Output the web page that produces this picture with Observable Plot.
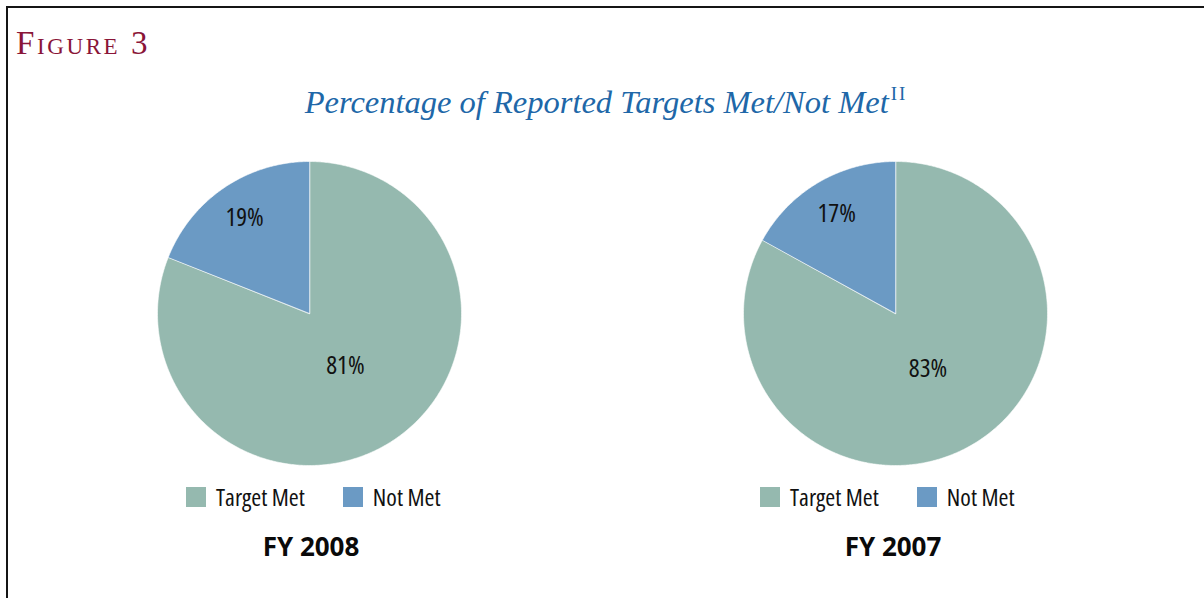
<!DOCTYPE html>
<html>
<head>
<meta charset="utf-8">
<script src="https://cdn.jsdelivr.net/npm/d3@7"></script>
<script src="https://cdn.jsdelivr.net/npm/@observablehq/plot@0.6"></script>
<style>
  html, body { margin: 0; padding: 0; background: #fff; }
  #page { position: relative; width: 1204px; height: 598px; overflow: hidden; background: #fff; }
  #frame { position: absolute; left: 6px; top: 6px; width: 1210px; height: 600px;
           border-top: 2px solid #151515; border-left: 2px solid #151515; }
  #fig { position: absolute; left: 16px; top: 25px; font-family: "Liberation Serif", serif;
         font-size: 33px; font-variant: small-caps; letter-spacing: 2.6px; color: #8a1538; line-height: 36px; white-space: nowrap; }
  #title { position: absolute; left: 0; width: 1212px; top: 82px; text-align: center;
           font-family: "Liberation Serif", serif; font-style: italic; font-size: 32.5px;
           color: #2067a8; line-height: 40px; white-space: nowrap; }
  #title sup { font-style: normal; font-size: 19px; letter-spacing: 2px; vertical-align: 13px; line-height: 0; margin-left: 2px; }
  .pie { position: absolute; top: 160px; }
  .pie text { font-stretch: 75%; }
  .leg { position: absolute; top: 480px; }
  .fy { position: absolute; top: 527px; width: 200px; text-align: center;
        font-family: "Open Sans", "Liberation Sans", sans-serif; font-weight: 700; font-size: 26px; font-stretch: 88%; color: #0a0a0a; line-height: 38px; }
  .pieleg-swatch { margin-right: 38px !important; font-stretch: 75%; }
  .pieleg-swatch > svg { margin-right: 10px !important; }
</style>
</head>
<body>
<div id="page">
  <div id="frame"></div>
  <div id="fig">Figure 3</div>
  <div id="title">Percentage of Reported Targets Met/Not Met<sup>II</sup></div>
</div>
<script>
// ---- data ----
const years = ["FY 2008", "FY 2007"];
const statuses = ["Target Met", "Not Met"];
const targetMet = [81, 83];
const notMet = [19, 17];
const statusColors = ["#95b9af", "#6b9ac4"];

const pctFont = "'Open Sans', sans-serif";

// build pie slices as planar polygons from the values
function pieData(values) {
  const arcs = d3.pie().sort(null)(values);
  const features = arcs.map((a, i) => {
    const ring = [[0, 0]];
    const n = Math.max(8, Math.ceil((a.endAngle - a.startAngle) / 0.01));
    for (let k = 0; k <= n; k++) {
      const t = a.startAngle + (a.endAngle - a.startAngle) * k / n;
      ring.push([Math.sin(t), -Math.cos(t)]);
    }
    ring.push([0, 0]);
    return {type: "Feature", properties: {status: statuses[i]}, geometry: {type: "Polygon", coordinates: [ring]}};
  });
  const labels = arcs.map((a, i) => {
    const mid = (a.startAngle + a.endAngle) / 2;
    const share = a.value / d3.sum(values);
    const k = share > 0.5 ? 0.42 : 0.76;
    return {x: k * Math.sin(mid), y: -k * Math.cos(mid), label: a.value + "%"};
  });
  return {features: {type: "FeatureCollection", features}, labels};
}

const page = document.getElementById("page");
const centers = [309, 895];

years.forEach((yr, i) => {
  const {features, labels} = pieData([targetMet[i], notMet[i]]);
  const chart = Plot.plot({
    width: 306,
    height: 306,
    margin: 0,
    projection: {type: "identity", domain: features, inset: 1},
    color: {domain: statuses, range: statusColors},
    marks: [
      Plot.geo(features.features, {fill: d => d.properties.status, stroke: "#ffffff", strokeWidth: 0.6}),
      Plot.text(labels, {x: "x", y: "y", text: "label", fontSize: 25.5, fontFamily: pctFont, fill: "#111"})
    ]
  });
  const pieDiv = document.createElement("div");
  pieDiv.className = "pie";
  pieDiv.style.left = (centers[i] - 153) + "px";
  pieDiv.appendChild(chart);
  page.appendChild(pieDiv);

  const leg = Plot.legend({
    color: {domain: statuses, range: statusColors},
    legend: "swatches",
    swatchSize: 20,
    className: "pieleg",
    style: {fontSize: "24px", fontFamily: pctFont, color: "#111", marginBottom: "0"}
  });
  const legDiv = document.createElement("div");
  legDiv.className = "leg";
  legDiv.style.left = (centers[i] - 123 + (i === 1 ? -12 : 0)) + "px";
  legDiv.appendChild(leg);
  page.appendChild(legDiv);

  const fy = document.createElement("div");
  fy.className = "fy";
  fy.textContent = yr;
  fy.style.left = (centers[i] - 100 + (i === 0 ? 2 : -2)) + "px";
  page.appendChild(fy);
});
</script>
</body>
</html>
